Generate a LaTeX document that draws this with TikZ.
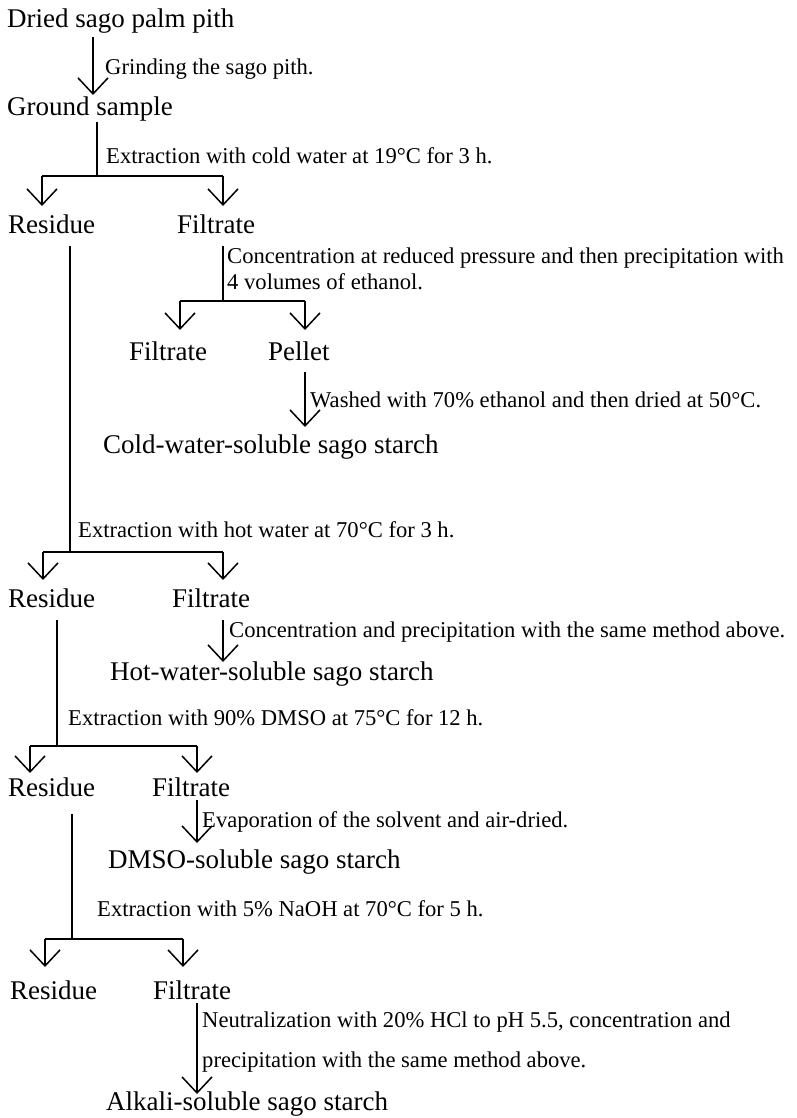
\documentclass[tikz,border=0pt]{standalone}
\usepackage{fontspec}
\setmainfont{Liberation Serif}
\usetikzlibrary{arrows.meta}
\begin{document}
\begin{tikzpicture}[x=1pt,y=-1pt,
  big/.style={anchor=base west,inner sep=0pt,font=\fontsize{27}{31}\selectfont},
  lab/.style={anchor=base west,inner sep=0pt,font=\fontsize{22.6}{26}\selectfont},
  ln/.style={line width=1.8pt},
  arr/.style={line width=1.8pt,-{Straight Barb[length=16pt,width=30pt,line width=1.5pt]}}]
\useasboundingbox (0,0) rectangle (796,1118);
% main texts
\node[big] (dried) at (7,28) {Dried sago palm pith};
\node[big] (ground) at (7,116) {Ground sample};
\node[big] (res1) at (8,233) {Residue};
\node[big] (fil1) at (177,233) {Filtrate};
\node[big] (fil2) at (129,360) {Filtrate};
\node[big] (pellet) at (268,360) {Pellet};
\node[big] (cold) at (103,453) {Cold-water-soluble sago starch};
\node[big] (res2) at (8,607) {Residue};
\node[big] (fil3) at (172,607) {Filtrate};
\node[big] (hot) at (110,680) {Hot-water-soluble sago starch};
\node[big] (res3) at (8,796) {Residue};
\node[big] (fil4) at (152,796) {Filtrate};
\node[big] (dmso) at (108,868) {DMSO-soluble sago starch};
\node[big] (res4) at (10,999) {Residue};
\node[big] (fil5) at (153,999) {Filtrate};
\node[big] (alk) at (106,1110) {Alkali-soluble sago starch};
% labels
\node[lab] (l1) at (105,75) {Grinding the sago pith.};
\node[lab] (l2) at (106,164) {Extraction with cold water at 19°C for 3 h.};
\node[lab] (l3a) at (227,263) {Concentration at reduced pressure and then precipitation with};
\node[lab] (l3b) at (227,289) {4 volumes of ethanol.};
\node[lab] (l4) at (310,407) {Washed with 70\% ethanol and then dried at 50°C.};
\node[lab] (l5) at (78,537) {Extraction with hot water at 70°C for 3 h.};
\node[lab] (l6) at (229,637) {Concentration and precipitation with the same method above.};
\node[lab] (l7) at (68,725) {Extraction with 90\% DMSO at 75°C for 12 h.};
\node[lab] (l8) at (202,827) {Evaporation of the solvent and air-dried.};
\node[lab] (l9) at (97,916) {Extraction with 5\% NaOH at 70°C for 5 h.};
\node[lab] (l10a) at (202,1027) {Neutralization with 20\% HCl to pH 5.5, concentration and};
\node[lab] (l10b) at (202,1067) {precipitation with the same method above.};
% coordinates
\coordinate (a1s) at (93,37);  \coordinate (a1e) at (93,95);
\coordinate (t1s) at (97,122); \coordinate (t1j) at (97,176);
\coordinate (b1l) at (42,176); \coordinate (b1r) at (223,176);
\coordinate (b1lt) at (42,206); \coordinate (b1rt) at (223,206);
\coordinate (t2s) at (70,246); \coordinate (t2j) at (70,552);
\coordinate (t3s) at (223,246); \coordinate (t3j) at (223,301);
\coordinate (b3l) at (180,301); \coordinate (b3r) at (305,301);
\coordinate (b3lt) at (180,330); \coordinate (b3rt) at (305,330);
\coordinate (a4s) at (305,372); \coordinate (a4e) at (305,427);
\coordinate (b2l) at (43,552); \coordinate (b2r) at (223,552);
\coordinate (b2lt) at (43,580); \coordinate (b2rt) at (223,580);
\coordinate (a6s) at (223,620); \coordinate (a6e) at (223,662);
\coordinate (t5s) at (57,620); \coordinate (t5j) at (57,746);
\coordinate (b5l) at (30,746); \coordinate (b5r) at (197,746);
\coordinate (b5lt) at (30,773); \coordinate (b5rt) at (197,773);
\coordinate (a8s) at (197,800); \coordinate (a8e) at (197,843);
\coordinate (t7s) at (72,814); \coordinate (t7j) at (72,939);
\coordinate (b7l) at (45,939); \coordinate (b7r) at (183,939);
\coordinate (b7lt) at (45,967); \coordinate (b7rt) at (183,967);
\coordinate (a10s) at (197,1003); \coordinate (a10e) at (197,1094);
% connectors
\draw[arr] (a1s) -- (a1e);
\draw[ln] (t1s) -- (t1j);
\draw[ln] (b1l) -- (b1r);
\draw[arr] (b1l) -- (b1lt);
\draw[arr] (b1r) -- (b1rt);
\draw[ln] (t2s) -- (t2j);
\draw[ln] (t3s) -- (t3j);
\draw[ln] (b3l) -- (b3r);
\draw[arr] (b3l) -- (b3lt);
\draw[arr] (b3r) -- (b3rt);
\draw[arr] (a4s) -- (a4e);
\draw[ln] (b2l) -- (b2r);
\draw[arr] (b2l) -- (b2lt);
\draw[arr] (b2r) -- (b2rt);
\draw[arr] (a6s) -- (a6e);
\draw[ln] (t5s) -- (t5j);
\draw[ln] (b5l) -- (b5r);
\draw[arr] (b5l) -- (b5lt);
\draw[arr] (b5r) -- (b5rt);
\draw[arr] (a8s) -- (a8e);
\draw[ln] (t7s) -- (t7j);
\draw[ln] (b7l) -- (b7r);
\draw[arr] (b7l) -- (b7lt);
\draw[arr] (b7r) -- (b7rt);
\draw[arr] (a10s) -- (a10e);
\end{tikzpicture}
\end{document}
